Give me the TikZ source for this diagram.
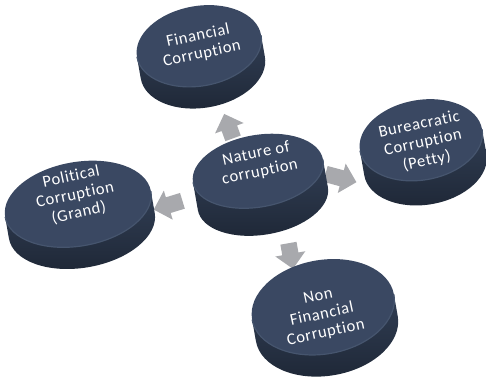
\documentclass[tikz,border=0pt]{standalone}
\usepackage{fontspec}
\setmainfont{Carlito}[LetterSpace=4,Ligatures=NoCommon]
\usetikzlibrary{shapes.arrows}
\definecolor{disctop}{HTML}{3A4862}
\definecolor{discrim}{HTML}{46556E}
\definecolor{discside}{HTML}{313E54}
\definecolor{discbottom}{HTML}{1E2736}
\definecolor{arrowgrey}{HTML}{A8A9AD}
% disc: (centre)(x radius:y radius:thickness)
\def\disc(#1,#2)(#3:#4:#5){
	\begin{scope}[shift={(#1,#2)},rotate=10]
		\shade[top color=discside,bottom color=discbottom] (-#3,0) -- (-#3,-#5) arc[start angle=180,end angle=360,x radius=#3,y radius=#4] -- (#3,0) arc[start angle=0,end angle=-180,x radius=#3,y radius=#4] -- cycle;
		\fill[disctop] (0,0) ellipse[x radius=#3,y radius=#4];
		\draw[discrim,line width=1.2pt] (-#3,0) arc[start angle=180,end angle=360,x radius=#3,y radius=#4];
	\end{scope}
}
\tikzset{
	blockarrow/.style={single arrow,fill=arrowgrey,draw=none,inner xsep=0pt,inner ysep=8pt,single arrow head extend=7pt},
	disclabel/.style={font=\fontsize{16.5}{18.5}\selectfont,align=center,rotate=12,text=white}
}

\begin{document}
\begin{tikzpicture}[x=1pt,y=1pt]
		%%%%% START %%%%%
		\useasboundingbox (0,0) rectangle (486,376);
		
		% arrows sit behind the discs
		\node[blockarrow,minimum height=26pt,rotate=110] (toFin) at (230,246) {};
		\node[blockarrow,minimum height=32pt,rotate=-15] (toBur) at (337,199) {};
		\node[blockarrow,minimum height=30pt,rotate=197] (toPol) at (172,172) {};
		\node[blockarrow,minimum height=26pt,rotate=-80] (toNon) at (290,124) {};
		
		\disc(199,330)(63:40:22)
		\disc(78,172)(74:42:22)
		\disc(421,236)(62:40:25)
		\disc(258,205)(66:36:28)
		\disc(323,69)(72:47:22)
		
		\node[disclabel] (fin) at (200,331) {Financial\\Corruption};
		\node[disclabel] (nat) at (258,213) {Nature of\\corruption};
		\node[disclabel] (pol) at (75,181) {Political\\Corruption\\(Grand)};
		\node[disclabel] (bur) at (423,233) {Bureacratic\\Corruption\\(Petty)};
		\node[disclabel] (non) at (322,61) {Non\\Financial\\Corruption};
		%%%%% END %%%%%
	\end{tikzpicture}
\end{document}
